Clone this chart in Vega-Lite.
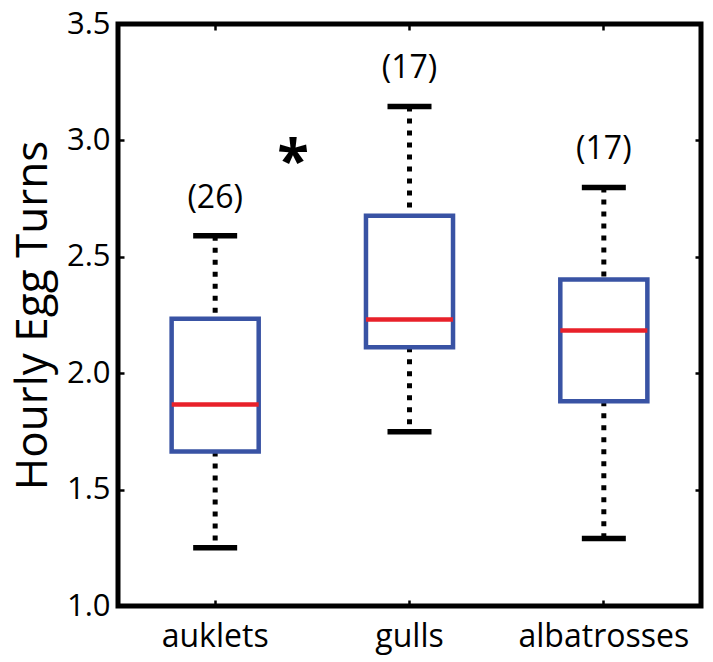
{
  "$schema": "https://vega.github.io/schema/vega-lite/v6.json",
  "width": 583,
  "height": 582,
  "autosize": {"type": "none"},
  "padding": {"left": 118, "top": 24, "right": 12, "bottom": 56},
  "config": {
    "view": {"stroke": "black", "strokeWidth": 5},
    "font": "Open Sans",
    "scale": {"bandPaddingInner": 0, "bandPaddingOuter": 0},
    "axis": {
      "domain": false, "grid": false,
      "labelFont": "Open Sans", "labelColor": "black", "labelFontSize": 31,
      "titleFont": "Open Sans", "titleColor": "black", "titleFontWeight": "normal",
      "tickColor": "black", "tickWidth": 2.5, "tickSize": -6
    }
  },
  "data": {
    "values": [
      {"species": "auklets", "lower": 1.25, "q1": 1.664, "median": 1.866, "q3": 2.234, "upper": 2.59, "label": "(26)"},
      {"species": "gulls", "lower": 1.748, "q1": 2.112, "median": 2.231, "q3": 2.676, "upper": 3.146, "label": "(17)"},
      {"species": "albatrosses", "lower": 1.29, "q1": 1.88, "median": 2.183, "q3": 2.402, "upper": 2.798, "label": "(17)"}
    ]
  },
  "resolve": {"axis": {"x": "independent", "y": "independent"}},
  "layer": [
    {
      "mark": {"type": "rule", "color": "black", "strokeWidth": 5, "strokeDash": [5, 7], "strokeCap": "butt"},
      "encoding": {
        "x": {"field": "species", "type": "nominal", "sort": null,
              "axis": {"orient": "bottom", "title": null, "labelAngle": 0, "labelPadding": 21, "labelFontSize": 32}},
        "y": {"field": "q1", "type": "quantitative",
              "scale": {"domain": [1, 3.5], "nice": false, "zero": false},
              "axis": {"orient": "left", "values": [1, 1.5, 2, 2.5, 3, 3.5], "format": ".1f", "labelPadding": 14,
                       "title": "Hourly Egg Turns", "titleFontSize": 44, "titlePadding": 11}},
        "y2": {"field": "lower"}
      }
    },
    {
      "mark": {"type": "rule", "color": "black", "strokeWidth": 5, "strokeDash": [5, 7], "strokeCap": "butt"},
      "encoding": {
        "x": {"field": "species", "type": "nominal", "sort": null,
              "axis": {"orient": "top", "title": null, "labels": false}},
        "y": {"field": "upper", "type": "quantitative",
              "scale": {"domain": [1, 3.5], "nice": false, "zero": false},
              "axis": {"orient": "right", "values": [1, 1.5, 2, 2.5, 3, 3.5], "labels": false, "title": null}},
        "y2": {"field": "q3"}
      }
    },
    {
      "mark": {"type": "bar", "fill": "white", "stroke": "#3953A4", "strokeWidth": 4.5, "width": {"band": 0.448}},
      "encoding": {
        "x": {"field": "species", "type": "nominal", "sort": null, "axis": null},
        "y": {"field": "q1", "type": "quantitative", "scale": {"domain": [1, 3.5], "nice": false, "zero": false}, "axis": null},
        "y2": {"field": "q3"}
      }
    },
    {
      "mark": {"type": "tick", "color": "#E8212A", "size": 87, "thickness": 4.5, "opacity": 1},
      "encoding": {
        "x": {"field": "species", "type": "nominal", "sort": null, "axis": null},
        "y": {"field": "median", "type": "quantitative", "scale": {"domain": [1, 3.5], "nice": false, "zero": false}, "axis": null}
      }
    },
    {
      "mark": {"type": "tick", "color": "black", "size": 44, "thickness": 5.5, "opacity": 1},
      "encoding": {
        "x": {"field": "species", "type": "nominal", "sort": null, "axis": null},
        "y": {"field": "lower", "type": "quantitative", "scale": {"domain": [1, 3.5], "nice": false, "zero": false}, "axis": null}
      }
    },
    {
      "mark": {"type": "tick", "color": "black", "size": 44, "thickness": 5.5, "opacity": 1},
      "encoding": {
        "x": {"field": "species", "type": "nominal", "sort": null, "axis": null},
        "y": {"field": "upper", "type": "quantitative", "scale": {"domain": [1, 3.5], "nice": false, "zero": false}, "axis": null}
      }
    },
    {
      "mark": {"type": "text", "fontSize": 32, "color": "black", "baseline": "middle", "dy": -38, "font": "Open Sans"},
      "encoding": {
        "x": {"field": "species", "type": "nominal", "sort": null, "axis": null},
        "y": {"field": "upper", "type": "quantitative", "scale": {"domain": [1, 3.5], "nice": false, "zero": false}, "axis": null},
        "text": {"field": "label"}
      }
    },
    {
      "data": {"values": [{"species": "auklets", "y": 2.9, "mark": "*"}]},
      "mark": {"type": "text", "fontSize": 58, "fontWeight": "bold", "color": "black", "baseline": "middle", "dx": 78, "font": "Open Sans"},
      "encoding": {
        "x": {"field": "species", "type": "nominal", "sort": null, "axis": null},
        "y": {"field": "y", "type": "quantitative", "scale": {"domain": [1, 3.5], "nice": false, "zero": false}, "axis": null},
        "text": {"field": "mark"}
      }
    }
  ]
}
